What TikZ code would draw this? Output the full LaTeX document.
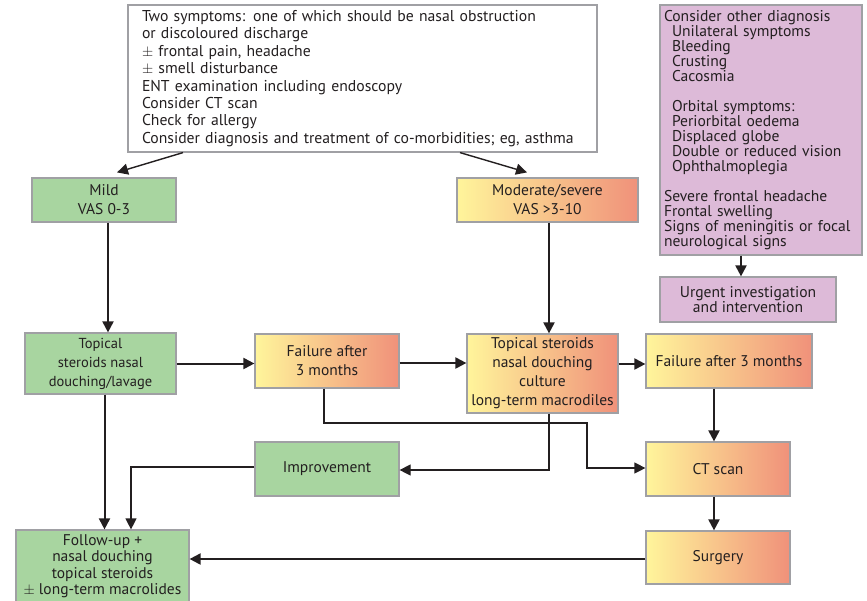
\documentclass[tikz,border=0pt]{standalone}
\usepackage{fontspec}
\setmainfont{PT Sans}
\usetikzlibrary{arrows.meta}

\definecolor{ink}{RGB}{35,31,32}
\definecolor{boxgray}{RGB}{160,160,164}
\definecolor{mildgreen}{RGB}{168,213,160}
\definecolor{warmyellow}{RGB}{255,245,155}
\definecolor{warmsalmon}{RGB}{240,145,122}
\definecolor{alertpurple}{RGB}{221,186,216}

\begin{document}
\begin{tikzpicture}[
    x=1pt, y=-1pt,
    font=\fontsize{15.7}{17.4}\selectfont,
    box/.style={draw=boxgray, line width=1.2pt, text=ink, align=center, inner sep=0pt},
    greenbox/.style={box, fill=mildgreen, font=\fontsize{15.5}{19}\selectfont},
    warmbox/.style={box, left color=warmyellow, right color=warmsalmon, font=\fontsize{15.5}{19}\selectfont},
    purplebox/.style={box, fill=alertpurple, font=\fontsize{15.6}{15}\selectfont},
    arr/.style={-{Triangle[length=11pt,width=11pt]}, line width=2pt, draw=ink},
    thinarr/.style={arr, line width=1.2pt}
]

\useasboundingbox (0,0) rectangle (867,600);
\clip (0,0) rectangle (867,600);

% --- Assessment (top) ---
\node[box, fill=white, align=left, text width=441pt, inner xsep=14pt,
      minimum height=147pt] (symptoms) at (362.5,78.5) {%
    Two symptoms: one of which should be nasal obstruction\\
    or discoloured discharge\\
    $\pm$ frontal pain, headache\\
    $\pm$ smell disturbance\\
    ENT examination including endoscopy\\
    Consider CT scan\\
    Check for allergy\\
    Consider diagnosis and treatment of co-morbidities; eg, asthma};

% --- Red flags (right) ---
\node[purplebox, align=left, text width=194pt, inner xsep=4pt,
      minimum height=250pt] (other) at (761,130) {%
    Consider other diagnosis\\
    \hspace*{8pt}Unilateral symptoms\\
    \hspace*{8pt}Bleeding\\
    \hspace*{8pt}Crusting\\
    \hspace*{8pt}Cacosmia\\[15pt]
    \hspace*{8pt}Orbital symptoms:\\
    \hspace*{8pt}Periorbital oedema\\
    \hspace*{8pt}Displaced globe\\
    \hspace*{8pt}Double or reduced vision\\
    \hspace*{8pt}Ophthalmoplegia\\[15pt]
    Severe frontal headache\\
    Frontal swelling\\
    Signs of meningitis or focal\\
    neurological signs};
\node[purplebox, minimum width=176pt, minimum height=45pt] (urgent) at (748,299.5)
    {Urgent investigation\\and intervention};

% --- Severity ---
\node[greenbox, minimum width=144pt, minimum height=44pt] (mild) at (104,200) {Mild\\VAS 0-3};
\node[warmbox, minimum width=181pt, minimum height=44pt] (moderate) at (547.5,200) {Moderate/severe\\VAS >3-10};

% --- Treatment row ---
\node[greenbox, font=\fontsize{14.5}{19}\selectfont, minimum width=151pt, minimum height=61pt] (topicalA) at (100.5,363.5)
    {Topical\\steroids nasal\\douching/lavage};
\node[warmbox, minimum width=144pt, minimum height=54pt] (failA) at (327,361) {Failure after\\3 months};
\node[warmbox, minimum width=151pt, minimum height=79pt] (topicalB) at (542.5,373.5)
    {Topical steroids\\nasal douching\\culture\\long-term macrodiles};
\node[warmbox, minimum width=166pt, minimum height=54pt] (failB) at (729,361) {Failure after 3 months};

% --- Outcome ---
\node[greenbox, minimum width=144pt, minimum height=54pt] (improve) at (327,469) {Improvement};
\node[warmbox, minimum width=144pt, minimum height=54pt] (ct) at (718,469) {CT scan};
\node[warmbox, minimum width=144pt, minimum height=53pt] (surgery) at (718,557.5) {Surgery};
\node[greenbox, font=\fontsize{15.5}{16.5}\selectfont, minimum width=173pt, minimum height=72pt] (follow) at (102.5,566)
    {Follow-up +\\nasal douching\\topical steroids\\$\pm$ long-term macrolides};

\coordinate (bendA) at (587,423);

% Edges
\draw[arr, line width=1.4pt] ([xshift=-179.5pt]symptoms.south) -- ([xshift=13pt,yshift=5pt]mild.north);
\draw[arr, line width=1.4pt] ([xshift=97.5pt]symptoms.south) -- ([xshift=-20.5pt,yshift=5pt]moderate.north);
\draw[arr] (other.south -| 741,0) -- (urgent.north -| 741,0);

\draw[arr] ([xshift=4pt]mild.south) -- ([xshift=4pt]mild.south |- topicalA.north);
\draw[arr] ([xshift=1.5pt]moderate.south) -- ([xshift=1.5pt]moderate.south |- topicalB.north);

\draw[arr] (topicalA.east) -- (topicalA.east -| failA.west);
\draw[arr] ([yshift=-2pt]failA.east) -- ([yshift=-2pt]failA.east -| topicalB.west);
\draw[arr] ([yshift=-3pt]topicalB.east |- failB.west) -- ([yshift=-3pt]failB.west);

\draw[arr] ([xshift=-4pt]ct.north |- failB.south) -- ([xshift=-4pt]ct.north);
\draw[arr] ([xshift=-4pt]ct.south) -- ([xshift=-4pt]surgery.north);
\draw[arr] ([yshift=-1.5pt]surgery.west) -- ([yshift=-1.5pt]surgery.west -| follow.east);

\draw[arr] ([xshift=4pt]topicalA.south) -- ([xshift=4pt]topicalA.south |- follow.north);
\draw[thinarr] ([yshift=2pt]improve.west) -| ([xshift=28.5pt]follow.north);
\draw[thinarr] ([xshift=-3pt]failA.south) |- (bendA) |- ([yshift=1pt]ct.west);
\draw[thinarr] ([xshift=6.5pt]topicalB.south) |- ([yshift=-1pt]improve.east);

\end{tikzpicture}
\end{document}
